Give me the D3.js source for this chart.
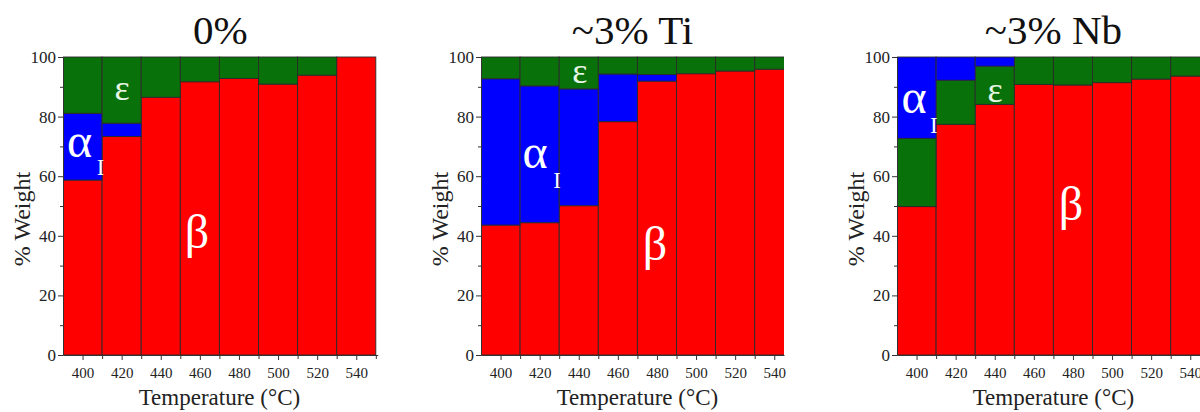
<!DOCTYPE html>
<meta charset="utf-8">
<style>
body { margin: 0; background: #fff; }
svg { display: block; overflow: hidden; }
svg text { font-family: 'Liberation Serif', 'Times New Roman', serif; }
.seg { stroke: #2a2a2a; stroke-width: 0.9; }
.tick text { fill: #222; }
.tick line, .domain { stroke: #333; }
.title { font-size: 41px; fill: #111; }
.axtitle { font-size: 24px; fill: #222; }
.phase { fill: #fff; }
</style>
<body>
<div id="chart"></div>
<script src="https://d3js.org/d3.v7.min.js"></script>
<script>
// temperatures (°C), one bar per temperature, 20 °C wide
var temps = [400, 420, 440, 460, 480, 500, 520, 540];

// 0% alloy
var beta0  = [58.7, 73.3, 86.5, 91.7, 92.8, 90.9, 93.9, 100];
var alpha0 = [22.4,  4.5,  0,    0,    0,    0,    0,    0];
var eps0   = [18.9, 22.2, 13.5,  8.3,  7.2,  9.1,  6.1,  0];

// ~3% Ti
var betaTi  = [43.6, 44.4, 50.1, 78.3, 91.9, 94.4, 95.3, 95.9];
var alphaTi = [49.1, 45.9, 39.2, 16.0,  2.2,  0,    0,    0];
var epsTi   = [ 7.3,  9.7, 10.7,  5.7,  5.9,  5.6,  4.7,  4.1];

// ~3% Nb
var betaNb  = [49.8, 77.4, 84.1, 90.8, 90.6, 91.4, 92.6, 93.6];
var epsNb   = [22.9, 14.8, 12.8,  9.2,  9.4,  8.6,  7.4,  6.4];
var alphaNb = [27.3,  7.8,  3.1,  0,    0,    0,    0,    0];

var yTicks = [0, 20, 40, 60, 80, 100];
var xTicks = [400, 420, 440, 460, 480, 500, 520, 540];

var colors = { beta: "#ff0000", alpha: "#0000ff", eps: "#097109" };

var W = 1200, H = 412, plotTop = 57, plotBottom = 355, pxPerDeg = 1.955;
var serif = "'Liberation Serif', 'Times New Roman', serif";

var panels = [
    { title: "0%", left: 63, xMax: 551, keys: ["beta", "alpha", "eps"],
      vals: { beta: beta0, alpha: alpha0, eps: eps0 },
      lab: { alpha: [398.5, 66.4], sub: [409.2, 60.4], eps: [420.2, 85.6], beta: [458.5, 35.9] } },
    { title: "~3% Ti", left: 481, xMax: 545, keys: ["beta", "alpha", "eps"],
      vals: { beta: betaTi, alpha: alphaTi, eps: epsTi },
      lab: { alpha: [417.6, 62.8], sub: [428.9, 56.0], eps: [440.6, 91.3], beta: [479, 31.9] } },
    { title: "~3% Nb", left: 897, xMax: 550, keys: ["beta", "eps", "alpha"],
      vals: { beta: betaNb, alpha: alphaNb, eps: epsNb },
      lab: { alpha: [398.7, 81.2], sub: [408.9, 74.5], eps: [440.1, 84.9], beta: [479, 45.3] } }
];

var svg = d3.select("#chart").append("svg")
    .attr("width", W)
    .attr("height", H);

var y = d3.scaleLinear().domain([0, 100]).range([plotBottom, plotTop]);

panels.forEach(function(p) {
    var x = d3.scaleLinear()
        .domain([390, p.xMax])
        .range([p.left, p.left + (p.xMax - 390) * pxPerDeg]);

    var rows = temps.map(function(t, i) {
        return { t: t, beta: p.vals.beta[i], alpha: p.vals.alpha[i], eps: p.vals.eps[i] };
    });
    var stacked = d3.stack().keys(p.keys)(rows);

    var g = svg.append("g");
    var clipId = "clip" + p.left;
    g.append("clipPath").attr("id", clipId)
      .append("rect")
        .attr("x", x(390)).attr("y", plotTop - 1)
        .attr("width", x(p.xMax) - x(390)).attr("height", plotBottom - plotTop + 2);

    stacked.forEach(function(s) {
        g.append("g")
            .attr("clip-path", "url(#" + clipId + ")")
          .selectAll("rect")
          .data(s.filter(function(d) { return d[1] - d[0] > 0; }))
          .enter().append("rect")
            .attr("class", "seg")
            .attr("fill", colors[s.key])
            .attr("x", function(d) { return x(d.data.t - 10); })
            .attr("width", function(d) { return x(d.data.t + 10) - x(d.data.t - 10); })
            .attr("y", function(d) { return y(d[1]); })
            .attr("height", function(d) { return y(d[0]) - y(d[1]); });
    });

    // y axis, major + minor ticks
    g.append("g")
        .attr("transform", "translate(" + x(390) + ",0)")
        .call(d3.axisLeft(y).tickValues([10, 30, 50, 70, 90]).tickSize(3).tickFormat(""))
        .call(function(a) { a.select(".domain").remove(); });
    g.append("g")
        .attr("transform", "translate(" + x(390) + ",0)")
        .call(d3.axisLeft(y).tickValues(yTicks).tickSizeInner(5).tickSizeOuter(0).tickPadding(2))
        .attr("font-family", serif).attr("font-size", 17);

    // x axis
    var minor = d3.range(410, p.xMax, 20);
    g.append("g")
        .attr("transform", "translate(0," + plotBottom + ")")
        .call(d3.axisBottom(x).tickValues(minor).tickSize(4).tickFormat(""))
        .call(function(a) { a.select(".domain").remove(); });
    g.append("g")
        .attr("transform", "translate(0," + plotBottom + ")")
        .call(d3.axisBottom(x).tickValues(xTicks).tickSizeInner(5).tickSizeOuter(0).tickPadding(7))
        .attr("font-family", serif).attr("font-size", 15);

    var cx = (x(390) + x(550)) / 2;

    svg.append("text").attr("class", "title")
        .attr("x", (x(390) + x(p.xMax)) / 2).attr("y", 44)
        .attr("text-anchor", "middle")
        .text(p.title);

    svg.append("text").attr("class", "axtitle")
        .attr("x", cx).attr("y", 405)
        .attr("text-anchor", "middle")
        .style("font-size", "23px")
        .text("Temperature (°C)");

    svg.append("text").attr("class", "axtitle")
        .attr("transform", "translate(" + (x(390) - 41) + "," + 219 + ") rotate(-90)")
        .attr("text-anchor", "middle")
        .attr("dominant-baseline", "central")
        .text("% Weight");

    // phase labels
    var lab = svg.append("g").attr("class", "phase")
        .attr("text-anchor", "middle");
    lab.append("text")
        .attr("x", x(p.lab.alpha[0])).attr("y", y(p.lab.alpha[1]))
        .style("font-size", "48px")
        .text("α");
    lab.append("text")
        .attr("x", x(p.lab.sub[0])).attr("y", y(p.lab.sub[1]))
        .style("font-size", "23px")
        .text("I");
    lab.append("text")
        .attr("x", x(p.lab.eps[0])).attr("y", y(p.lab.eps[1]))
        .style("font-size", "36px")
        .style("fill", "#e6f6e6")
        .text("ε");
    lab.append("text")
        .attr("x", x(p.lab.beta[0])).attr("y", y(p.lab.beta[1]))
        .style("font-size", "48px")
        .text("β");
});
</script>
</body>
